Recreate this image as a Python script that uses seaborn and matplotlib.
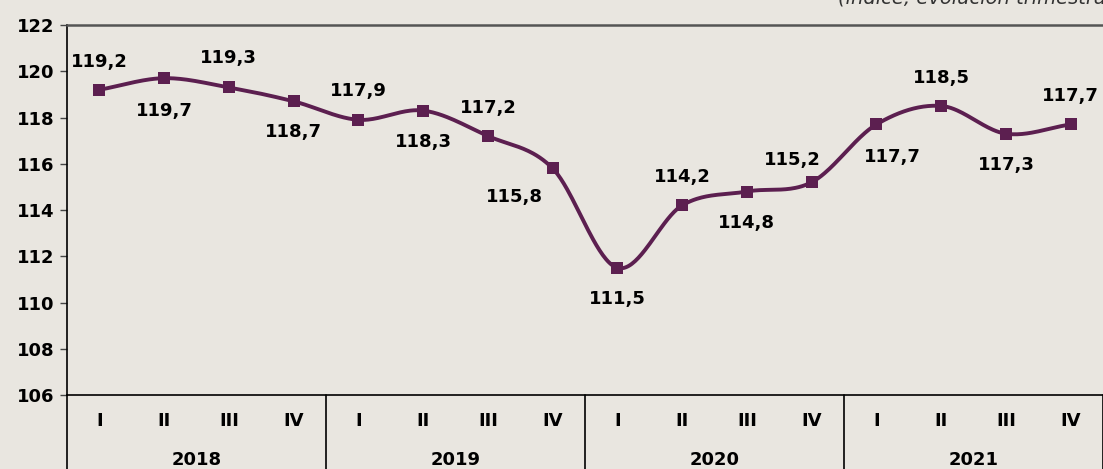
import numpy as np
import pandas as pd
import seaborn as sns
import matplotlib.pyplot as plt
from matplotlib.transforms import blended_transform_factory

years = ["2018", "2019", "2020", "2021"]
quarters = ["I", "II", "III", "IV"]
values = [119.2, 119.7, 119.3, 118.7, 117.9, 118.3, 117.2, 115.8,
          111.5, 114.2, 114.8, 115.2, 117.7, 118.5, 117.3, 117.7]
value_labels = ["119,2", "119,7", "119,3", "118,7", "117,9", "118,3", "117,2", "115,8",
                "111,5", "114,2", "114,8", "115,2", "117,7", "118,5", "117,3", "117,7"]
subtitle = "(índice, evolución trimestral)"

# label offsets in pixels (dx, dy)
label_offsets = [(0, 28), (0, -33), (0, 29), (0, -31), (0, 29), (0, -31), (0, 28), (-38, -29),
                 (0, -31), (0, 28), (0, -31), (-19, 22), (16, -33), (0, 28), (0, -31), (0, 28)]

BG = "#E9E6E0"
LINE = "#5C1F50"


def catmull_rom(y, n=40):
    x = np.arange(len(y), dtype=float)
    p = np.concatenate([[2 * y[0] - y[1]], y, [2 * y[-1] - y[-2]]])
    xs, ys = [], []
    for i in range(len(y) - 1):
        t = np.linspace(0, 1, n, endpoint=False)
        p0, p1, p2, p3 = p[i], p[i + 1], p[i + 2], p[i + 3]
        yy = 0.5 * (2 * p1 + (-p0 + p2) * t + (2 * p0 - 5 * p1 + 4 * p2 - p3) * t ** 2
                    + (-p0 + 3 * p1 - 3 * p2 + p3) * t ** 3)
        xs.append(x[i] + t)
        ys.append(yy)
    xs.append([x[-1]])
    ys.append([y[-1]])
    return np.concatenate(xs), np.concatenate(ys)


df = pd.DataFrame({"x": np.arange(len(values)), "value": values})
sx, sy = catmull_rom(np.array(values))
smooth = pd.DataFrame({"x": sx, "value": sy})

sns.set_theme(style="white")
plt.rcParams["font.family"] = ["DejaVu Sans"]

fig = plt.figure(figsize=(11.03, 4.69), dpi=100, facecolor=BG)
ax = fig.add_axes([67 / 1103, 1 - 395 / 469, 1 - 67 / 1103, (395 - 25) / 469])
ax.set_facecolor(BG)

sns.lineplot(data=smooth, x="x", y="value", color=LINE, linewidth=2.8, ax=ax)
sns.scatterplot(data=df, x="x", y="value", marker="s", s=80, color=LINE,
                edgecolor=LINE, linewidth=0, zorder=5, ax=ax)

for i, (v, lab) in enumerate(zip(values, value_labels)):
    dx, dy = label_offsets[i]
    ax.annotate(lab, (i, v), xytext=(dx * 0.72, dy * 0.72), textcoords="offset points",
                ha="center", va="center", fontsize=13, fontweight="bold", color="black")

ax.set_xlim(-0.5, len(values) - 0.5)
ax.set_ylim(106, 122)
ax.set_yticks(np.arange(106, 123, 2))
ax.set_yticklabels([str(t) for t in range(106, 123, 2)], fontsize=13, fontweight="bold",
                   color="black")
ax.tick_params(axis="y", length=5, width=1, color="#444444", pad=4, left=True)

ax.set_xticks(np.arange(len(values)))
ax.set_xticklabels(quarters * len(years), fontsize=13, fontweight="bold", color="black")
ax.tick_params(axis="x", length=0, pad=12)
ax.set_xlabel("")
ax.set_ylabel("")

for side in ["left", "bottom"]:
    ax.spines[side].set_color("black")
    ax.spines[side].set_linewidth(1.2)
ax.spines["top"].set_color("#555555")
ax.spines["top"].set_linewidth(1.8)
ax.spines["right"].set_visible(False)

trans = blended_transform_factory(ax.transData, ax.transAxes)
for k in range(len(years) + 1):
    xb = k * 4 - 0.5
    ax.plot([xb, xb], [0, -0.2], transform=trans, color="black", linewidth=1.2, clip_on=False)
for k, yr in enumerate(years):
    ax.text(k * 4 + 1.5, -0.175, yr, transform=trans, ha="center", va="center",
            fontsize=13, fontweight="bold", color="black")

fig.text(838 / 1103, 1 - 3 / 469, subtitle, ha="left", va="baseline",
         fontsize=14, style="italic", color="#333333")

fig.savefig("out.png", dpi=100, facecolor=BG)
